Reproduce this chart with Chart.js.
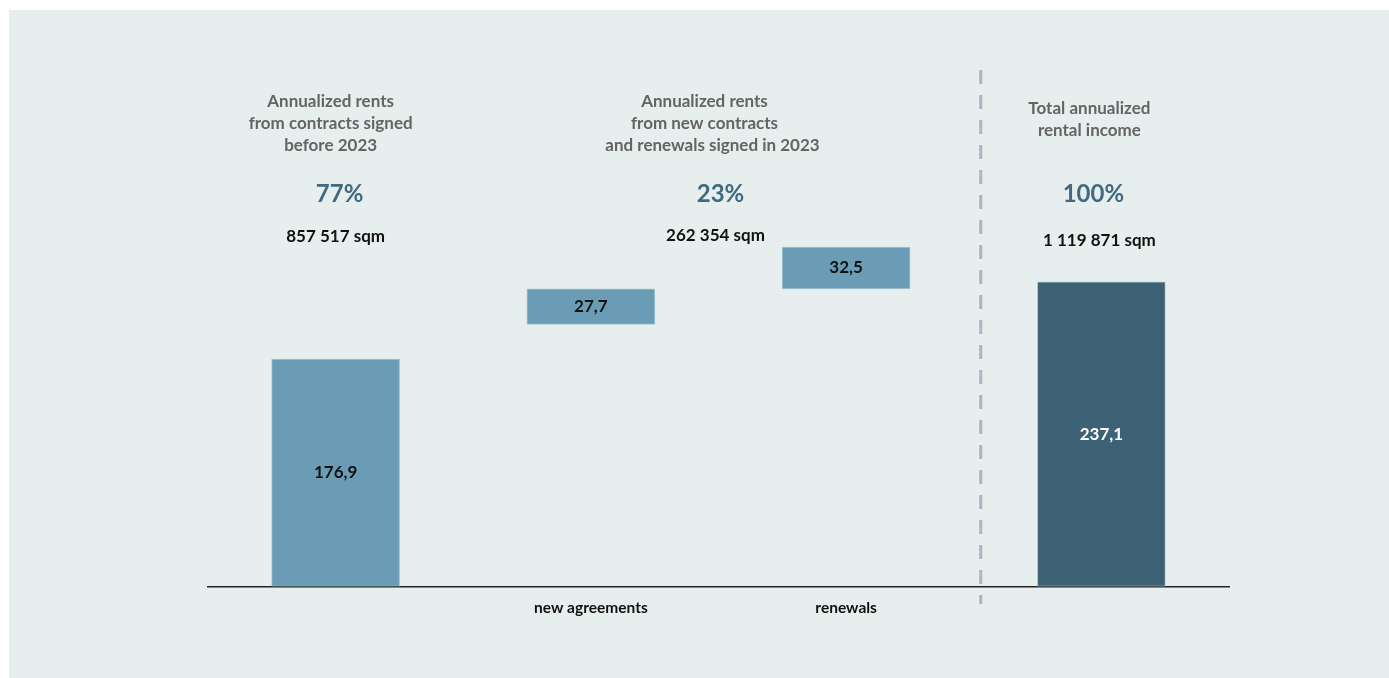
<!DOCTYPE html>
<html>
<head>
<meta charset="utf-8">
<script src="https://cdn.jsdelivr.net/npm/chart.js@4.4.1/dist/chart.umd.min.js"></script>
<style>
  html, body { margin: 0; padding: 0; background: #ffffff; }
  #wrap { position: relative; width: 1389px; height: 678px; }
</style>
</head>
<body>
<div id="wrap"><canvas id="rentChart" width="1389" height="678"></canvas></div>
<script>
// Annualized rent bridge (MSEK)
const categories = ['', 'new agreements', 'renewals', ''];
const barValues = [176.9, 27.7, 32.5, 237.1];
const barBases = [0, 204.0, 231.7, 0];
const valueLabels = ['176,9', '27,7', '32,5', '237,1'];

const groupTitles = [
    ['Annualized rents', 'from contracts signed', 'before 2023'],
    ['Annualized rents', 'from new contracts', 'and renewals signed in 2023'],
    ['Total annualized', 'rental income']
];
const groupShares = ['77%', '23%', '100%'];
const groupAreas = ['857 517 sqm', '262 354 sqm', '1 119 871 sqm'];

const FONT = 'Lato, "Open Sans", sans-serif';
const lightBlue = '#6a9db5';
const darkBlue = '#3e6275';

const headerPlugin = {
    id: 'headerPlugin',
    beforeDraw(chart) {
        const ctx = chart.ctx;
        ctx.save();
        ctx.fillStyle = '#ffffff';
        ctx.fillRect(0, 0, chart.width, chart.height);
        ctx.fillStyle = '#e6efee';
        ctx.fillRect(9, 10, chart.width - 9, chart.height - 10);
        ctx.restore();
    },
    afterDatasetsDraw(chart) {
        const ctx = chart.ctx;
        const x = chart.scales.x;
        const meta = chart.getDatasetMeta(0);
        ctx.save();

        // values inside the bars
        ctx.textAlign = 'center';
        ctx.textBaseline = 'middle';
        ctx.font = 'bold 17px ' + FONT;
        meta.data.forEach((bar, i) => {
            ctx.fillStyle = i === 3 ? '#ffffff' : '#111111';
            ctx.fillText(valueLabels[i], bar.x, (bar.y + bar.base) / 2);
        });

        // dashed separator before the total
        const sepX = (x.getPixelForValue(2) + x.getPixelForValue(3)) / 2 + 7;
        ctx.strokeStyle = '#aab4c6';
        ctx.lineWidth = 3;
        ctx.setLineDash([14, 11]);
        ctx.beginPath();
        ctx.moveTo(sepX, 70);
        ctx.lineTo(sepX, 604);
        ctx.stroke();
        ctx.setLineDash([]);

        // group headers
        const centers = [
            x.getPixelForValue(0),
            (x.getPixelForValue(1) + x.getPixelForValue(2)) / 2,
            x.getPixelForValue(3)
        ];
        const titleTop = [102, 102, 109];
        const titleShift = [-5, -14, -12];
        const shareShift = [4, 2, -8];
        const areaShift = [0, -3, -2];
        const areaY = [237, 236, 241];
        centers.forEach((cx, g) => {
            ctx.fillStyle = '#646464';
            ctx.font = 'bold 17px ' + FONT;
            groupTitles[g].forEach((line, k) => {
                const dx = (g === 1 && k === 2) ? 8 : 0;
                ctx.fillText(line, cx + titleShift[g] + dx, titleTop[g] + k * 22);
            });
            ctx.fillStyle = '#416a80';
            ctx.font = 'bold 24px ' + FONT;
            ctx.fillText(groupShares[g], cx + shareShift[g], 194);
            ctx.fillStyle = '#111111';
            ctx.font = 'bold 17px ' + FONT;
            ctx.fillText(groupAreas[g], cx + areaShift[g], areaY[g]);
        });
        ctx.restore();
    }
};

new Chart(document.getElementById('rentChart'), {
    type: 'bar',
    data: {
        labels: categories,
        datasets: [{
            data: barValues.map((v, i) => [barBases[i], barBases[i] + v]),
            backgroundColor: [lightBlue, lightBlue, lightBlue, darkBlue],
            borderColor: '#a3c4d4',
            borderWidth: 1,
            borderSkipped: false,
            barThickness: 128
        }]
    },
    options: {
        responsive: false,
        animation: false,
        layout: {
            padding: { left: 208, right: 160, top: 20, bottom: 49 }
        },
        plugins: {
            legend: { display: false },
            tooltip: { enabled: false }
        },
        scales: {
            x: {
                grid: { display: false, drawTicks: false },
                border: { color: '#222222', width: 1.5 },
                ticks: {
                    color: '#111111',
                    padding: 12,
                    font: { family: FONT, size: 15.5, weight: 'bold' }
                }
            },
            y: {
                display: false,
                min: 0,
                max: 441
            }
        }
    },
    plugins: [headerPlugin]
});
</script>
</body>
</html>
